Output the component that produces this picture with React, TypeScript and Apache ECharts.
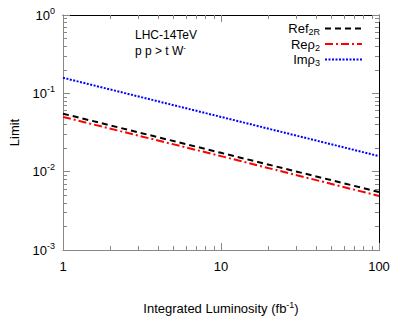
import React, { useEffect, useRef } from "react";
import * as echarts from "echarts";

const luminosity = [1, 10, 100];
const ref2R = [0.055, 0.0174, 0.0055];
const reRho2 = [0.05, 0.0158, 0.0049];
const imRho3 = [0.158, 0.05, 0.0158];
const seriesNames = ["Ref2R", "Reρ2", "Imρ3"];
const legendRich: Record<string, string> = {
  Ref2R: "{m|Ref}{sub|2R}",
  "Reρ2": "{m|Reρ}{sub|2}",
  "Imρ3": "{m|Imρ}{sub|3}",
};
const xMajor = [1, 10, 100];
const xMinor = [2, 3, 4, 5, 6, 7, 8, 9, 20, 30, 40, 50, 60, 70, 80, 90];
const yMajor = [0.001, 0.01, 0.1, 1];
const yMinor = [
  0.002, 0.003, 0.004, 0.005, 0.006, 0.007, 0.008, 0.009,
  0.02, 0.03, 0.04, 0.05, 0.06, 0.07, 0.08, 0.09,
  0.2, 0.3, 0.4, 0.5, 0.6, 0.7, 0.8, 0.9,
];

const FONT = "Liberation Sans, Arial, sans-serif";
const GRAY = "#888888";

export default function App() {
  const ref = useRef<HTMLDivElement>(null);
  useEffect(() => {
    if (!ref.current) return;
    const chart = echarts.init(ref.current, null, { renderer: "svg" });
    const pair = (xs: number[], ys: number[]) => xs.map((x, i) => [x, ys[i]]);
    const baseX = {
      type: "log",
      min: 1,
      max: 100,
      logBase: 10,
      splitLine: { show: false },
      gridIndex: 0,
    };
    const baseY = {
      type: "log",
      min: 0.001,
      max: 1,
      logBase: 10,
      splitLine: { show: false },
      gridIndex: 0,
    };
    const option: any = {
      animation: false,
      textStyle: { fontFamily: FONT },
      grid: { left: 58, right: 21, top: 15, bottom: 70, containLabel: false },
      xAxis: [
        {
          ...baseX,
          position: "bottom",
          axisLine: { show: true, lineStyle: { color: GRAY, width: 1 } },
          axisTick: { show: true, inside: true, length: 7, lineStyle: { color: GRAY }, customValues: xMajor },
          axisLabel: { show: true, color: "#000", fontSize: 13, margin: 10, fontFamily: FONT, customValues: xMajor, formatter: (v: number) => String(Math.round(v)) },
          name: "{t|Integrated Luminosity (fb}{s|-1}{t|)}",
          nameLocation: "middle",
          nameGap: 50,
          nameTextStyle: {
            fontFamily: FONT,
            rich: {
              t: { fontSize: 13, color: "#000", fontFamily: FONT },
              s: { fontSize: 9, color: "#000", fontFamily: FONT, padding: [0, 0, 8, 0] },
            },
          },
        },
        {
          ...baseX,
          position: "bottom",
          axisLine: { show: false },
          axisTick: { show: true, inside: true, length: 4, lineStyle: { color: GRAY }, customValues: xMinor },
          axisLabel: { show: false },
        },
        {
          ...baseX,
          position: "top",
          axisLine: { show: true, lineStyle: { color: "#000", width: 1 } },
          axisTick: { show: true, inside: true, length: 7, lineStyle: { color: GRAY }, customValues: xMajor },
          axisLabel: { show: false },
        },
        {
          ...baseX,
          position: "top",
          axisLine: { show: false },
          axisTick: { show: true, inside: true, length: 4, lineStyle: { color: GRAY }, customValues: xMinor },
          axisLabel: { show: false },
        },
      ],
      yAxis: [
        {
          ...baseY,
          position: "left",
          axisLine: { show: true, lineStyle: { color: GRAY, width: 1 } },
          axisTick: { show: true, inside: true, length: 7, lineStyle: { color: GRAY }, customValues: yMajor },
          axisLabel: {
            show: true,
            margin: 8,
            customValues: yMajor,
            formatter: (v: number) => `{b|10}{s|${Math.round(Math.log10(v))}}`,
            rich: {
              b: { fontSize: 13, color: "#000", fontFamily: FONT },
              s: { fontSize: 9, color: "#000", fontFamily: FONT, padding: [0, 0, 9, 0] },
            },
          },
          name: "Limit",
          nameLocation: "middle",
          nameGap: 42,
          nameRotate: 90,
          nameTextStyle: { fontSize: 13, color: "#000", fontFamily: FONT },
        },
        {
          ...baseY,
          position: "left",
          axisLine: { show: false },
          axisTick: { show: true, inside: true, length: 4, lineStyle: { color: GRAY }, customValues: yMinor },
          axisLabel: { show: false },
        },
        {
          ...baseY,
          position: "right",
          axisLine: { show: true, lineStyle: { color: "#000", width: 1 } },
          axisTick: { show: true, inside: true, length: 7, lineStyle: { color: GRAY }, customValues: yMajor },
          axisLabel: { show: false },
        },
        {
          ...baseY,
          position: "right",
          axisLine: { show: false },
          axisTick: { show: true, inside: true, length: 4, lineStyle: { color: GRAY }, customValues: yMinor },
          axisLabel: { show: false },
        },
      ],
      legend: {
        orient: "vertical",
        right: 37,
        top: 22,
        align: "right",
        itemWidth: 37,
        itemHeight: 10,
        itemGap: 1,
        padding: 0,
        data: seriesNames,
        itemStyle: { opacity: 0 },
        formatter: (name: string) => legendRich[name] || name,
        textStyle: {
          fontFamily: FONT,
          rich: {
            m: { fontSize: 13, color: "#000", fontFamily: FONT },
            sub: { fontSize: 9, color: "#000", fontFamily: FONT, padding: [7, 0, 0, 0] },
          },
        },
      },
      graphic: [
        {
          type: "text",
          left: 135,
          top: 29,
          style: {
            text: "LHC-14TeV",
            font: `12px ${FONT}`,
            fill: "#000",
          },
        },
        {
          type: "text",
          left: 135,
          top: 43,
          style: {
            text: "{t|p p > t W}{s|-}",
            fill: "#000",
            rich: {
              t: { fontSize: 12, fontFamily: FONT, fill: "#000" },
              s: { fontSize: 8, fontFamily: FONT, fill: "#000", padding: [0, 0, 7, 0] },
            },
          },
        },
      ],
      series: [
        {
          name: seriesNames[0],
          type: "line",
          xAxisIndex: 0,
          yAxisIndex: 0,
          showSymbol: false,
          symbol: "none",
          data: pair(luminosity, ref2R),
          itemStyle: { color: "#000" },
          lineStyle: { color: "#000", width: 2, type: [6, 4] },
        },
        {
          name: seriesNames[1],
          type: "line",
          xAxisIndex: 0,
          yAxisIndex: 0,
          showSymbol: false,
          symbol: "none",
          data: pair(luminosity, reRho2),
          itemStyle: { color: "#ff0000" },
          lineStyle: { color: "#ff0000", width: 2, type: [8, 3, 2, 3] },
        },
        {
          name: seriesNames[2],
          type: "line",
          xAxisIndex: 0,
          yAxisIndex: 0,
          showSymbol: false,
          symbol: "none",
          data: pair(luminosity, imRho3),
          itemStyle: { color: "#0000ff" },
          lineStyle: { color: "#0000ff", width: 2, type: [2, 1.5] },
        },
      ],
    };
    chart.setOption(option);
    return () => chart.dispose();
  }, []);
  return <div ref={ref} style={{ width: 400, height: 320, position: "absolute", left: 0, top: 0 }} />;
}
